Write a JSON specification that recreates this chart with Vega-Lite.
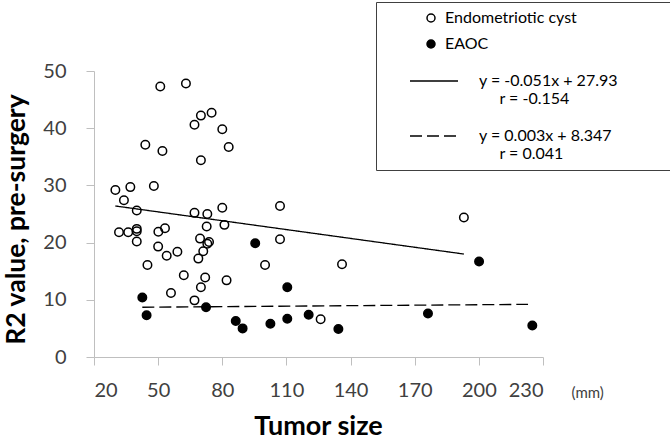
{
  "$schema": "https://vega.github.io/schema/vega-lite/v6.json",
  "width": 449,
  "height": 286,
  "autosize": {"type": "none"},
  "padding": {"left": 94, "top": 71, "right": 127, "bottom": 86},
  "background": "white",
  "title": {"text": "Tumor size", "orient": "bottom", "anchor": "middle", "fontSize": 27, "font": "Lato", "fontWeight": "bold", "color": "black", "offset": 14},
  "config": {
    "view": {"stroke": null},
    "axis": {"grid": false, "domainColor": "#bfbfbf", "tickColor": "#bfbfbf", "labelFont": "Lato", "labelFontSize": 20, "labelColor": "#404040", "tickSize": 8, "domainWidth": 1, "tickWidth": 1}
  },
  "layer": [
    {
      "data": {"values": [
        {"group": "Endometriotic cyst", "size": 51, "r2": 47.3},
        {"group": "Endometriotic cyst", "size": 63, "r2": 47.8},
        {"group": "Endometriotic cyst", "size": 70, "r2": 42.2},
        {"group": "Endometriotic cyst", "size": 75, "r2": 42.7},
        {"group": "Endometriotic cyst", "size": 67, "r2": 40.6},
        {"group": "Endometriotic cyst", "size": 80, "r2": 39.8},
        {"group": "Endometriotic cyst", "size": 44, "r2": 37.1},
        {"group": "Endometriotic cyst", "size": 52, "r2": 36.0},
        {"group": "Endometriotic cyst", "size": 83, "r2": 36.7},
        {"group": "Endometriotic cyst", "size": 70, "r2": 34.4},
        {"group": "Endometriotic cyst", "size": 30, "r2": 29.2},
        {"group": "Endometriotic cyst", "size": 37, "r2": 29.7},
        {"group": "Endometriotic cyst", "size": 48, "r2": 29.9},
        {"group": "Endometriotic cyst", "size": 34, "r2": 27.4},
        {"group": "Endometriotic cyst", "size": 40, "r2": 25.6},
        {"group": "Endometriotic cyst", "size": 67, "r2": 25.2},
        {"group": "Endometriotic cyst", "size": 73, "r2": 25.0},
        {"group": "Endometriotic cyst", "size": 80, "r2": 26.1},
        {"group": "Endometriotic cyst", "size": 72.7, "r2": 22.8},
        {"group": "Endometriotic cyst", "size": 81, "r2": 23.1},
        {"group": "Endometriotic cyst", "size": 31.7, "r2": 21.8},
        {"group": "Endometriotic cyst", "size": 36, "r2": 21.8},
        {"group": "Endometriotic cyst", "size": 40, "r2": 22.4},
        {"group": "Endometriotic cyst", "size": 40, "r2": 22.0},
        {"group": "Endometriotic cyst", "size": 50.1, "r2": 21.9},
        {"group": "Endometriotic cyst", "size": 53.2, "r2": 22.5},
        {"group": "Endometriotic cyst", "size": 40, "r2": 20.2},
        {"group": "Endometriotic cyst", "size": 69.6, "r2": 20.7},
        {"group": "Endometriotic cyst", "size": 73.8, "r2": 20.1},
        {"group": "Endometriotic cyst", "size": 73, "r2": 19.8},
        {"group": "Endometriotic cyst", "size": 50, "r2": 19.3},
        {"group": "Endometriotic cyst", "size": 54, "r2": 17.7},
        {"group": "Endometriotic cyst", "size": 59, "r2": 18.4},
        {"group": "Endometriotic cyst", "size": 71.1, "r2": 18.5},
        {"group": "Endometriotic cyst", "size": 68.8, "r2": 17.2},
        {"group": "Endometriotic cyst", "size": 45, "r2": 16.1},
        {"group": "Endometriotic cyst", "size": 62, "r2": 14.3},
        {"group": "Endometriotic cyst", "size": 72, "r2": 13.9},
        {"group": "Endometriotic cyst", "size": 82, "r2": 13.4},
        {"group": "Endometriotic cyst", "size": 70, "r2": 12.2},
        {"group": "Endometriotic cyst", "size": 56, "r2": 11.2},
        {"group": "Endometriotic cyst", "size": 67, "r2": 9.9},
        {"group": "Endometriotic cyst", "size": 107, "r2": 26.4},
        {"group": "Endometriotic cyst", "size": 107, "r2": 20.6},
        {"group": "Endometriotic cyst", "size": 100, "r2": 16.1},
        {"group": "Endometriotic cyst", "size": 136, "r2": 16.2},
        {"group": "Endometriotic cyst", "size": 193, "r2": 24.4},
        {"group": "Endometriotic cyst", "size": 126, "r2": 6.6},
        {"group": "EAOC", "size": 42.6, "r2": 10.4},
        {"group": "EAOC", "size": 44.6, "r2": 7.3},
        {"group": "EAOC", "size": 72.4, "r2": 8.7},
        {"group": "EAOC", "size": 95.4, "r2": 19.9},
        {"group": "EAOC", "size": 86.3, "r2": 6.3},
        {"group": "EAOC", "size": 89.5, "r2": 5.0},
        {"group": "EAOC", "size": 102.5, "r2": 5.8},
        {"group": "EAOC", "size": 110.4, "r2": 12.2},
        {"group": "EAOC", "size": 110.4, "r2": 6.7},
        {"group": "EAOC", "size": 120.4, "r2": 7.4},
        {"group": "EAOC", "size": 134.3, "r2": 4.9},
        {"group": "EAOC", "size": 176.2, "r2": 7.6},
        {"group": "EAOC", "size": 200.1, "r2": 16.7},
        {"group": "EAOC", "size": 225, "r2": 5.5}
      ]},
      "mark": {"type": "point", "shape": "circle", "size": 72, "filled": true, "stroke": "black", "strokeWidth": 1.5, "opacity": 1},
      "encoding": {
        "x": {"field": "size", "type": "quantitative", "scale": {"domain": [20, 230], "nice": false, "zero": false},
          "axis": {"values": [20, 50, 80, 110, 140, 170, 200, 230], "title": "(mm)", "titleX": 477, "titleY": 35, "titleAlign": "left", "titleBaseline": "middle", "titleFontSize": 15, "titleFontWeight": "normal", "titleFont": "Lato", "titleColor": "#404040", "labelPadding": 15}},
        "y": {"field": "r2", "type": "quantitative", "scale": {"domain": [0, 50], "nice": false},
          "axis": {"values": [0, 10, 20, 30, 40, 50], "title": "R2 value, pre-surgery", "titleFont": "Lato", "titleFontSize": 26.5, "titleFontWeight": "bold", "titleColor": "black", "labelPadding": 20, "titlePadding": 12, "titleY": 148}},
        "fill": {"field": "group", "type": "nominal",
          "scale": {"domain": ["Endometriotic cyst", "EAOC"], "range": ["transparent", "black"]},
          "legend": {"orient": "none", "legendX": 329, "legendY": -61, "title": null, "padding": 0, "symbolType": "circle", "symbolSize": 64, "symbolStrokeColor": "black", "symbolStrokeWidth": 1.5, "labelFont": "Lato", "labelFontSize": 16, "labelColor": "black", "labelOffset": 6, "rowPadding": 10, "clipHeight": 16}}
      }
    },
    {
      "data": {"values": [
        {"fit": "cyst", "size": 30, "r2": 26.4},
        {"fit": "cyst", "size": 193, "r2": 18.0},
        {"fit": "eaoc", "size": 42.6, "r2": 8.7},
        {"fit": "eaoc", "size": 223, "r2": 9.2}
      ]},
      "mark": {"type": "line", "stroke": "black", "strokeWidth": 1.3},
      "encoding": {
        "x": {"field": "size", "type": "quantitative"},
        "y": {"field": "r2", "type": "quantitative"},
        "strokeDash": {"field": "fit", "type": "nominal",
          "scale": {"domain": ["cyst", "eaoc"], "range": [[1, 0], [12, 5]]},
          "legend": {"orient": "none", "legendX": 282, "legendY": -69, "title": "\u00a0", "titleFontSize": 10, "titlePadding": 51, "padding": 8, "strokeColor": "#404040", "symbolType": "stroke", "symbolSize": 2304, "symbolStrokeColor": "black", "symbolStrokeWidth": 1.3, "symbolOffset": 25, "labelOffset": 20, "labelFont": "Lato", "labelFontSize": 16, "labelColor": "black", "labelLimit": 400, "labelBaseline": "middle", "clipHeight": 20, "rowPadding": 19,
            "labelExpr": "datum.value == 'cyst' ? ['y = -0.051x + 27.93\u00a0\u00a0\u00a0\u00a0\u00a0\u00a0\u00a0\u00a0\u00a0\u00a0\u00a0\u00a0\u200b', '\u200b\u00a0\u00a0\u00a0\u00a0\u00a0r = -0.154'] : ['y = 0.003x + 8.347', '\u200b\u00a0\u00a0\u00a0\u00a0\u00a0r = 0.041']"}}
      }
    }
  ]
}
